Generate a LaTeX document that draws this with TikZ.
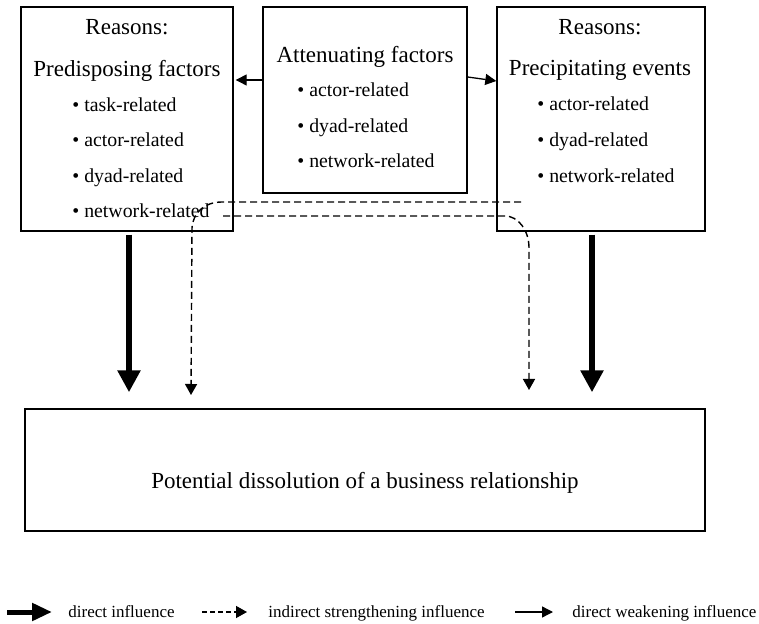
\documentclass[tikz,border=0pt]{standalone}
\usepackage{fontspec}
\setmainfont{Liberation Serif}
\usepackage{tikz}
\usetikzlibrary{arrows.meta,positioning}
\tikzset{
  frame/.style={draw=black, line width=0.7pt, inner sep=0pt},
  heading/.style={font=\fontsize{11.5}{14}\selectfont, inner sep=0pt, anchor=base},
  item/.style={font=\fontsize{9.9}{12}\selectfont, inner sep=0pt, anchor=base west},
  legend/.style={font=\fontsize{8.5}{10}\selectfont, inner sep=0pt, anchor=base west},
  bigarrow/.style={-{Triangle[width=11pt,length=11pt]}, line width=3pt},
  dasharrow/.style={-{Triangle[width=6pt,length=5.5pt]}, line width=0.7pt, dash pattern=on 3.5pt off 2pt},
  thinarrow/.style={-{Triangle[width=5.5pt,length=5.5pt]}, line width=0.65pt}
}

\begin{document}
\begin{tikzpicture}[x=0.5pt, y=-0.5pt]
  \useasboundingbox (0,0) rectangle (759,624);

  % boxes
  \node[frame, minimum width=106pt, minimum height=112pt] (predisp) at (127,119) {};
  \node[frame, minimum width=102pt, minimum height=93pt] (atten) at (365,100) {};
  \node[frame, minimum width=104pt, minimum height=112pt] (precip) at (601,119) {};
  \node[frame, minimum width=340pt, minimum height=61pt] (dissol) at (365,470) {};

  % left box
  \node[heading] (predisptitle) at (127,35) {Reasons:};
  \node[heading] (predispname) at (127,77) {Predisposing factors};
  \node[item] (ptask) at (72,112) {\textbullet\ task-related};
  \node[item] (pactor) at (72,147) {\textbullet\ actor-related};
  \node[item] (pdyad) at (72,183) {\textbullet\ dyad-related};
  \node[item] (pnet) at (72,218) {\textbullet\ network-related};

  % middle box
  \node[heading] (attenname) at (365,63) {Attenuating factors};
  \node[item] (aactor) at (297,97) {\textbullet\ actor-related};
  \node[item] (adyad) at (297,133) {\textbullet\ dyad-related};
  \node[item] (anet) at (297,168) {\textbullet\ network-related};

  % right box
  \node[heading] (precipitle) at (600,35) {Reasons:};
  \node[heading] (precipname) at (600,76) {Precipitating events};
  \node[item] (cactor) at (537,111) {\textbullet\ actor-related};
  \node[item] (cdyad) at (537,147) {\textbullet\ dyad-related};
  \node[item] (cnet) at (537,183) {\textbullet\ network-related};

  \node[heading] (dissolname) at (365,488) {Potential dissolution of a business relationship};

  % weakening influence
  \draw[thinarrow, shorten >=1pt] ([yshift=10pt]atten.west) -- ([yshift=10pt]atten.west -| predisp.east);
  \draw[thinarrow] ([yshift=11.5pt]atten.east) -- ([yshift=19pt]precip.west);

  % direct influence
  \draw[bigarrow, shorten <=1.5pt, shorten >=8pt] ([xshift=1pt]predisp.south) -- ([xshift=1pt]predisp.south |- dissol.north);
  \draw[bigarrow, shorten <=1.5pt, shorten >=8pt] ([xshift=-4.5pt]precip.south) -- ([xshift=-4.5pt]precip.south |- dissol.north);

  % indirect strengthening influence
  \coordinate (upstart) at (521,202);
  \coordinate (upend) at (191,395);
  \coordinate (lowstart) at (223,216);
  \coordinate (lowend) at (529,390);
  \draw[dasharrow] (upstart) -- (222,202) .. controls (205,202) and (193,212) .. (192,228) -- (upend);
  \draw[dasharrow] (lowstart) -- (505,216) .. controls (518,216) and (529,230) .. (529,248) -- (lowend);

  % legend
  \draw[bigarrow, line width=2.5pt, -{Triangle[width=8.5pt,length=10pt]}] (7,612) -- (52,612);
  \node[legend] (legdirect) at (68,617) {direct influence};
  \draw[dasharrow, dash pattern=on 2.5pt off 1.5pt] (202,612) -- (247,612);
  \node[legend] (legindirect) at (268,617) {indirect strengthening influence};
  \draw[thinarrow] (515,612) -- (553,612);
  \node[legend] (legweak) at (572,617) {direct weakening influence};
\end{tikzpicture}
\end{document}
